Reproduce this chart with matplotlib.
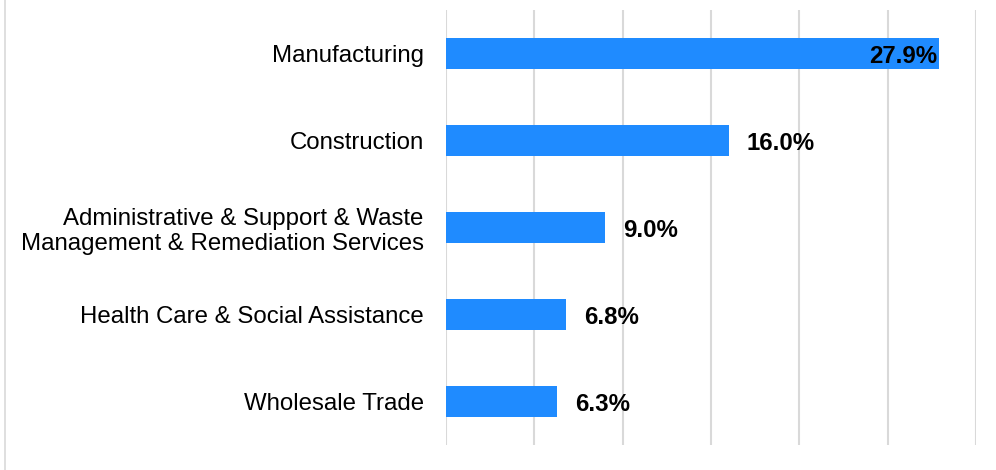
import matplotlib.pyplot as plt
from matplotlib.lines import Line2D

plt.rcParams['font.family'] = ['Liberation Sans', 'DejaVu Sans']

categories = [
    "Manufacturing",
    "Construction",
    "Administrative & Support & Waste\nManagement & Remediation Services",
    "Health Care & Social Assistance",
    "Wholesale Trade",
]
values = [27.9, 16.0, 9.0, 6.8, 6.3]
labels = ["27.9%", "16.0%", "9.0%", "6.8%", "6.3%"]

fig = plt.figure(figsize=(9.96, 4.7), dpi=100)
ax = fig.add_axes([446 / 996, 25 / 470, 530 / 996, 435 / 470])

y = list(range(len(categories)))
ax.barh(y, values, height=0.35, color="#1f8bff", zorder=3)
ax.set_ylim(len(categories) - 0.5, -0.5)
ax.set_xlim(0, 30)
ax.set_xticks([0, 5, 10, 15, 20, 25, 30])
ax.set_xticklabels([])
ax.tick_params(axis="x", length=0)
ax.tick_params(axis="y", length=0, pad=16, labelsize=17.3)
ax.set_yticks(y)
ax.set_yticklabels(categories)
for lbl in ax.get_yticklabels():
    lbl.set_horizontalalignment("right")
    lbl.set_multialignment("right")
    lbl.set_linespacing(1.15)
ax.grid(axis="x", color="#d9d9d9", linewidth=1.5, zorder=0)
for s in ax.spines.values():
    s.set_visible(False)

for i, (v, t) in enumerate(zip(values, labels)):
    if v > 25:
        ax.text(v - 0.1, i + 0.03, t, ha="right", va="center",
                fontsize=17.3, fontweight="bold", color="black", zorder=4)
    else:
        ax.text(v + 1.0, i + 0.03, t, ha="left", va="center",
                fontsize=17.3, fontweight="bold", color="black", zorder=4)

# light frame on the left edge
fig.add_artist(Line2D([5 / 996, 5 / 996], [0, 1], color="#d9d9d9",
                      linewidth=1.2, transform=fig.transFigure))

fig.savefig("out.png", dpi=100)
